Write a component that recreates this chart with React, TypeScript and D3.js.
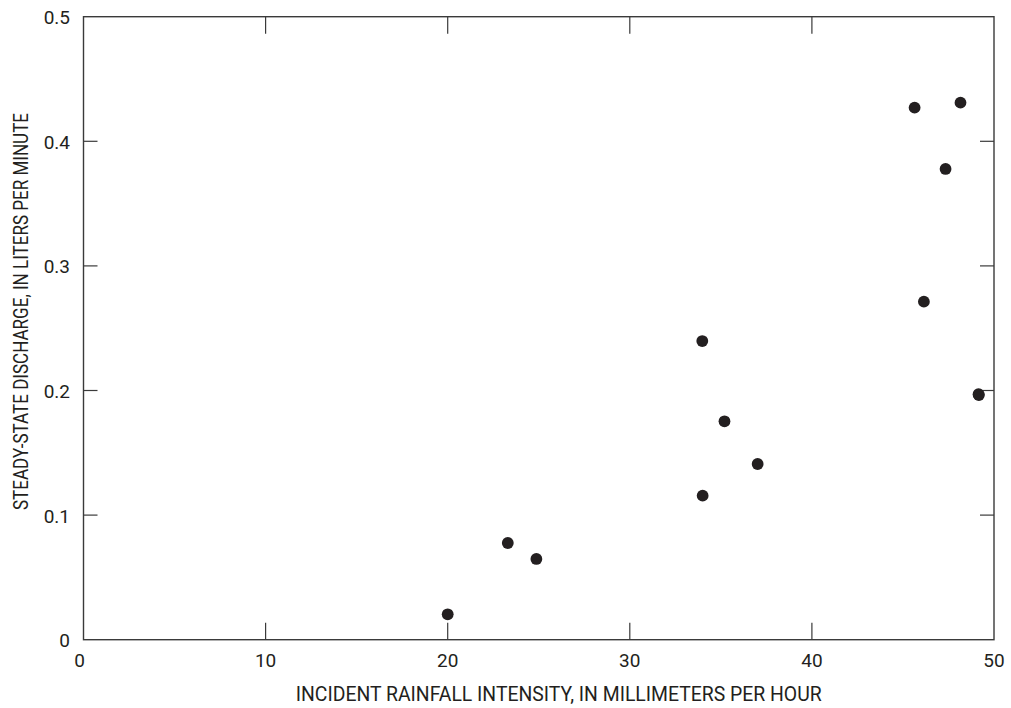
import React from "react";
import * as d3 from "d3";

const rainfall = [20.0, 23.3, 24.87, 33.98, 34.0, 35.2, 37.02, 45.64, 46.15, 47.34, 48.16, 49.17, 49.15];
const discharge = [0.0204, 0.0776, 0.0648, 0.2397, 0.1156, 0.1753, 0.141, 0.427, 0.2713, 0.3778, 0.431, 0.1964, 0.197];
const xTicks = [0, 10, 20, 30, 40, 50];
const yTicks = [0, 0.1, 0.2, 0.3, 0.4, 0.5];
const xTitle = "INCIDENT RAINFALL INTENSITY, IN MILLIMETERS PER HOUR";
const yTitle = "STEADY-STATE DISCHARGE, IN LITERS PER MINUTE";

const W = 1011;
const H = 708;
const L = 83.5, R = 994, T = 16.7, B = 639.7;
const FONT = "'Liberation Sans Narrow', 'Arial Narrow', 'Roboto', sans-serif";
const AX = "#3a3a3a";

export default function App() {
  const x = d3.scaleLinear().domain([0, 50]).range([L, R]);
  const y = d3.scaleLinear().domain([0, 0.5]).range([B, T]);
  const pts = rainfall.map((v, i) => ({ x: v, y: discharge[i] }));
  const xFmt = d3.format("d");
  const yFmt = (v: number) => (v === 0 ? "0" : d3.format(".1f")(v));
  return (
    <svg width={W} height={H} style={{ position: "absolute", left: 0, top: 0, background: "#fff" }}>
      <rect x={L} y={T} width={R - L} height={B - T} fill="none" stroke={AX} strokeWidth={1.4} />
      {xTicks.slice(1, -1).map((t) => (
        <g key={"xt" + t}>
          <line x1={x(t)} x2={x(t)} y1={B} y2={B - 17} stroke={AX} strokeWidth={1.2} />
          <line x1={x(t)} x2={x(t)} y1={T} y2={T + 17} stroke={AX} strokeWidth={1.2} />
        </g>
      ))}
      {yTicks.slice(1, -1).map((t) => (
        <g key={"yt" + t}>
          <line x1={L} x2={L + 14} y1={y(t)} y2={y(t)} stroke={AX} strokeWidth={1.2} />
          <line x1={R} x2={R - 14} y1={y(t)} y2={y(t)} stroke={AX} strokeWidth={1.2} />
        </g>
      ))}
      {xTicks.map((t) => (
        <text key={"xl" + t} x={x(t) - (t === 0 ? 4 : 0)} y={667} textAnchor="middle" fontFamily={FONT} fontSize={19} fill="#231f20">
          {xFmt(t)}
        </text>
      ))}
      {yTicks.map((t) => (
        <text key={"yl" + t} x={70} y={y(t) + 7.5} textAnchor="end" fontFamily={FONT} fontSize={19} fill="#231f20">
          {yFmt(t)}
        </text>
      ))}
      <text x={558.7} y={701} textAnchor="middle" fontFamily={FONT} fontSize={19.5} fill="#231f20" textLength={526} lengthAdjust="spacingAndGlyphs">
        {xTitle}
      </text>
      <text transform={`translate(27.5, 311.5) rotate(-90)`} textAnchor="middle" fontFamily={FONT} fontSize={19.5} fill="#231f20" textLength={397} lengthAdjust="spacingAndGlyphs">
        {yTitle}
      </text>
      {pts.map((p, i) => (
        <circle key={i} cx={x(p.x)} cy={y(p.y)} r={5.9} fill="#231f20" />
      ))}
    </svg>
  );
}
